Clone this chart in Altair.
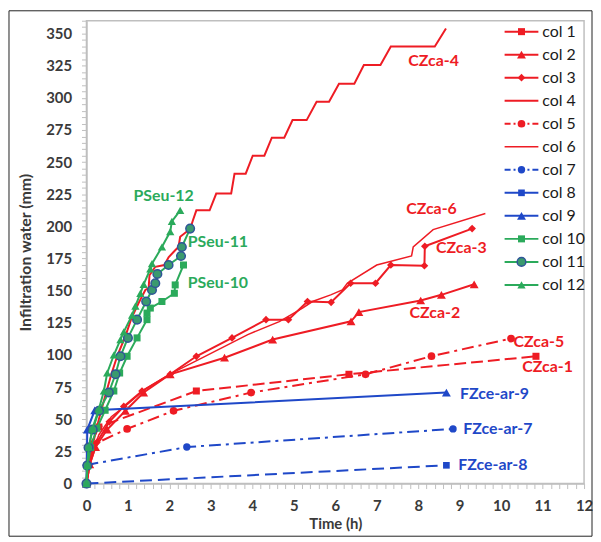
import altair as alt
import pandas as pd

# ---------------- data ----------------
series_names = ["col 1", "col 2", "col 3", "col 4", "col 5", "col 6",
                "col 7", "col 8", "col 9", "col 10", "col 11", "col 12"]
series_labels = ["CZca-1", "CZca-2", "CZca-3", "CZca-4", "CZca-5", "CZca-6",
                 "FZce-ar-7", "FZce-ar-8", "FZce-ar-9", "PSeu-10", "PSeu-11", "PSeu-12"]

col1_t = [0, 0.06, 0.3, 2.65, 6.33, 10.84]
col1_v = [0, 28, 44, 72, 85, 99]

col2_t = [0, 0.08, 0.22, 0.5, 0.94, 1.38, 2.02, 3.33, 4.49, 6.38, 6.57, 8.06, 8.56, 9.35]
col2_v = [0, 15, 28.4, 42, 56.6, 70.8, 85, 97.9, 112, 126.2, 133.4, 142.4, 146.8, 155]

col3_t = [0, 0.08, 0.25, 0.55, 0.9, 1.34, 2.02, 2.65, 3.51, 4.33, 4.87, 5.33, 5.90,
          6.37, 6.97, 7.34, 8.15, 8.16, 9.30]
col3_v = [0, 15, 32, 48, 60, 72, 85, 99, 113.3, 127.5, 127.5, 141.6, 141,
          155.8, 155.8, 170, 169.4, 184.6, 198.3]

col4_t = [0, 0.05, 0.15, 0.3, 0.45, 0.6, 0.75, 0.94, 1.09, 1.26, 1.42, 1.50, 1.52, 1.66,
          1.88, 1.98, 2.14, 2.22, 2.26, 2.50, 2.57, 2.65, 2.97, 3.13, 3.49, 3.57, 3.84,
          4.01, 4.29, 4.47, 4.77, 4.97, 5.31, 5.55, 5.85, 6.09, 6.46, 6.69, 7.09,
          7.34, 8.40, 8.67]
col4_v = [0, 15, 30, 50, 68, 85, 100, 114.7, 129, 140.6, 150.6, 152, 162, 168.6,
          170, 176, 181.5, 184, 192, 198, 205, 212.5, 212.5, 225.6, 225.6, 241, 241,
          255, 255, 269, 269, 282.7, 282.7, 297, 297, 311, 311, 325.5, 325.5,
          340, 340, 354]

col5_t = [0, 0.15, 0.98, 2.10, 3.97, 6.73, 8.32, 10.24]
col5_v = [0, 30, 42.5, 56.6, 70.8, 85, 99.1, 112.8]

col6_t = [0, 0.1, 0.3, 0.6, 1.0, 1.4, 2.0, 2.8, 3.89, 4.65, 5.21, 5.45, 5.89, 6.17,
          6.29, 7.0, 7.84, 7.88, 8.36, 9.62]
col6_v = [0, 20, 38, 52, 62, 73, 85, 98, 115.9, 126, 136.5, 141.6, 146.8, 150.6,
          155.8, 170, 177, 184, 197.5, 210]

col7_t = [0, 2.42, 8.84]
col7_v = [14.5, 28.4, 42.5]

col8_t = [0, 8.68]
col8_v = [0, 14.2]

col9_t = [0, 0.02, 0.2, 8.68]
col9_v = [0, 42, 57, 70.8]

col10_t = [0, 0.03, 0.1, 0.25, 0.45, 0.66, 0.8, 0.98, 1.22, 1.46, 1.46, 1.54, 1.82,
           2.12, 2.14, 2.34]
col10_v = [0, 14, 28, 43, 57, 72, 86, 99, 113.3, 127.5, 132.6, 136.5, 141.6,
           148, 154.5, 170]

col11_t = [0, 0.02, 0.05, 0.15, 0.3, 0.54, 0.70, 0.82, 1.0, 1.22, 1.44, 1.58, 1.66,
           1.71, 1.98, 2.28, 2.30, 2.50]
col11_v = [0, 14, 28, 42, 56.6, 70.8, 85, 99, 113.3, 127.5, 141.6, 150.6, 155.8,
           163, 170, 177, 184, 198.3]

col12_t = [0, 0.02, 0.06, 0.14, 0.3, 0.42, 0.5, 0.66, 0.82, 0.9, 1.1, 1.18, 1.3,
           1.38, 1.54, 1.58, 1.82, 2.02, 2.06, 2.26]
col12_v = [0, 14, 28.4, 42.5, 58, 72, 86, 100, 112, 118, 131, 138, 148,
           155, 167, 171, 184, 196, 204, 212.5]

all_t = [col1_t, col2_t, col3_t, col4_t, col5_t, col6_t,
         col7_t, col8_t, col9_t, col10_t, col11_t, col12_t]
all_v = [col1_v, col2_v, col3_v, col4_v, col5_v, col6_v,
         col7_v, col8_v, col9_v, col10_v, col11_v, col12_v]

# annotation anchors (data units)
label_t = [11.12, 8.40, 9.04, 8.37, 10.91, 8.32, 9.92, 9.80, 9.84, 3.17, 3.17, 1.86]
label_v = [90.4, 132.6, 182.9, 329, 109.7, 213.8, 42.5, 14.2, 69.5, 155.8, 188, 224]

# ---------------- styles ----------------
RED, BLUE, GREEN = "#EE1C24", "#1F48C8", "#2BAA5B"
colors = [RED] * 6 + [BLUE] * 3 + [GREEN] * 3
dashes = [[12, 5], None, None, None, [12, 5, 3, 5], None,
          [12, 5, 3, 5], [12, 6], None, None, None, None]
widths = [2, 2, 2, 2, 2, 1.5, 2, 2, 2, 2, 2, 2]
markers = ["square", "triangle-up", "diamond", None, "circle", None,
           "circle", "square", "triangle-up", "square", "circle", "triangle-up"]
msizes = [50, 80, 60, 0, 60, 0, 55, 45, 80, 50, 75, 70]
FONT = "Lato"

xscale = alt.Scale(domain=[0, 12], nice=False, zero=False)
yscale = alt.Scale(domain=[0, 360], nice=False)

xaxis = alt.Axis(
    values=[round(i * 0.2, 1) for i in range(61)],
    labelExpr="abs(datum.value - round(datum.value)) < 0.01 ? format(datum.value, 'd') : ''",
    title="Time (h)", tickSize=5, labelPadding=10, titlePadding=3,
    labelOverlap=False, labelFlush=False, grid=False)
yaxis = alt.Axis(
    values=list(range(0, 361, 5)),
    labelExpr="datum.value % 25 === 0 && datum.value <= 350 ? datum.label : ''",
    title="Infiltration water (mm)", tickSize=5, labelPadding=10, titlePadding=12,
    titleFontSize=16,
    labelOverlap=False, labelFlush=False, grid=False)

main_layers = []
for k in range(12):
    df = pd.DataFrame({"t": all_t[k], "v": all_v[k], "i": list(range(len(all_t[k])))})
    base = alt.Chart(df)
    lkw = dict(color=colors[k], strokeWidth=widths[k])
    if dashes[k]:
        lkw["strokeDash"] = dashes[k]
    main_layers.append(
        base.mark_line(**lkw).encode(
            x=alt.X("t:Q", scale=xscale, axis=xaxis),
            y=alt.Y("v:Q", scale=yscale, axis=yaxis),
            order="i:Q"))
    if markers[k]:
        pkw = dict(shape=markers[k], filled=True, size=msizes[k], color=colors[k], opacity=1)
        if k == 10:
            pkw.update(fill="#3A9A6E", stroke="#2F5597", strokeWidth=1.5)
        main_layers.append(
            base.mark_point(**pkw).encode(
                x=alt.X("t:Q", scale=xscale, axis=xaxis),
                y=alt.Y("v:Q", scale=yscale, axis=yaxis)))

ann = pd.DataFrame({"t": label_t, "v": label_v, "txt": series_labels, "c": colors})
main_layers.append(
    alt.Chart(ann).mark_text(font=FONT, fontSize=16, fontWeight="bold").encode(
        x=alt.X("t:Q", scale=xscale, axis=xaxis),
        y=alt.Y("v:Q", scale=yscale, axis=yaxis),
        text="txt:N",
        color=alt.Color("c:N", scale=None)))

# outer figure frame
frame = alt.Chart(pd.DataFrame({"a": [0]})).mark_rect(
    fillOpacity=0, stroke="#222222", strokeWidth=1).encode(
    x=alt.value(-78), x2=alt.value(509), y=alt.value(-10), y2=alt.value(519))
main_layers.append(frame)

# ---------------- legend (manual) ----------------
leg_y = alt.Scale(domain=[0, 11], range=[11, 266])
legend_layers = []
for k in range(12):
    ld = pd.DataFrame({"idx": [k], "name": [series_names[k]]})
    lb = alt.Chart(ld)
    rkw = dict(color=colors[k], strokeWidth=widths[k])
    if dashes[k]:
        rkw["strokeDash"] = [6, 3, 2, 3] if len(dashes[k]) == 4 else [40, 1]
    legend_layers.append(lb.mark_rule(**rkw).encode(
        x=alt.value(421), x2=alt.value(455),
        y=alt.Y("idx:Q", scale=leg_y, axis=None)))
    if markers[k]:
        pkw = dict(shape=markers[k], filled=True, size=msizes[k], color=colors[k], opacity=1)
        if k == 10:
            pkw.update(fill="#3A9A6E", stroke="#2F5597", strokeWidth=1.5)
        legend_layers.append(lb.mark_point(**pkw).encode(
            x=alt.value(438), y=alt.Y("idx:Q", scale=leg_y, axis=None)))
leg_df = pd.DataFrame({"idx": list(range(12)), "name": series_names})
legend_layers.append(alt.Chart(leg_df).mark_text(
    align="left", baseline="middle", font=FONT, fontSize=16, color="#1a1a1a").encode(
    x=alt.value(459), y=alt.Y("idx:Q", scale=leg_y, axis=None), text="name:N"))

chart = alt.layer(
    alt.layer(*main_layers),
    alt.layer(*legend_layers),
).resolve_scale(y="independent").properties(
    width=501, height=466,
    autosize=alt.AutoSizeParams(type="none"),
    padding={"left": 79, "top": 11, "right": 9, "bottom": 54},
    background="white",
).configure_view(
    stroke="#BFBFBF", strokeWidth=1.5
).configure_axis(
    domainColor="#BFBFBF", domainWidth=1.5, tickColor="#BFBFBF", tickWidth=1,
    labelFont=FONT, labelFontSize=15, labelFontWeight="bold", labelColor="#3a3a3a",
    titleFont=FONT, titleFontSize=15, titleFontWeight="bold", titleColor="#3a3a3a",
)

chart.save("out.html", embed_options={"renderer": "svg", "actions": False})
